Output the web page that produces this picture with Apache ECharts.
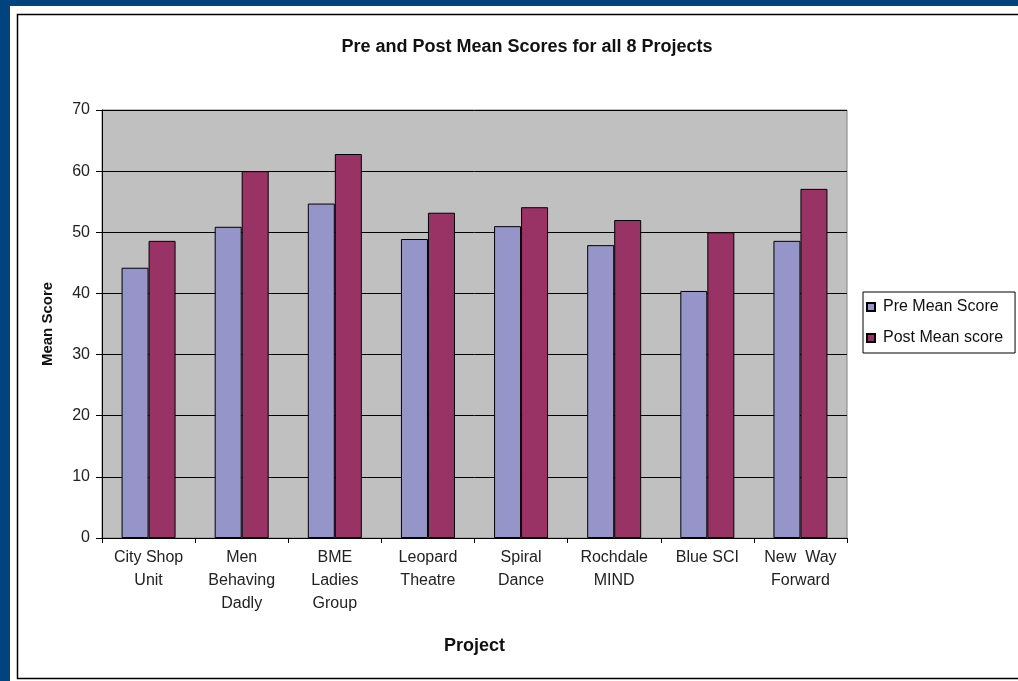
<!DOCTYPE html>
<html>
<head>
<meta charset="utf-8">
<script src="https://cdn.jsdelivr.net/npm/echarts@6/dist/echarts.min.js"></script>
<style>
html,body{margin:0;padding:0;background:#01437f;}
#c{width:1018px;height:681px;}
</style>
</head>
<body>
<div id="c"></div>
<script>
const categories = ["City Shop\nUnit", "Men\nBehaving\nDadly", "BME\nLadies\nGroup", "Leopard\nTheatre", "Spiral\nDance", "Rochdale\nMIND", "Blue SCI", "New  Way\nForward"];
const preMeanScore = [44.2, 50.9, 54.7, 48.9, 51.0, 47.9, 40.4, 48.6];
const postMeanScore = [48.6, 60.0, 62.8, 53.2, 54.1, 52.0, 50.0, 57.1];
const yTicks = {min: 0, max: 70, interval: 10};

const chart = echarts.init(document.getElementById('c'), null, {renderer: 'canvas'});
const font = '"Liberation Sans", Arial, sans-serif';
chart.setOption({
  backgroundColor: '#01437f',
  animation: false,
  textStyle: {fontFamily: font},
  graphic: [
    {type: 'rect', z: -10, shape: {x: 10, y: 6, width: 1010, height: 677}, style: {fill: '#ffffff'}},
    {type: 'rect', z: -9, shape: {x: 17.5, y: 14.5, width: 1010, height: 664}, style: {fill: 'none', stroke: '#000', lineWidth: 1.5}}
  ],
  title: {
    text: 'Pre and Post Mean Scores for all 8 Projects',
    left: 522, top: 33, textAlign: 'center',
    textStyle: {fontSize: 18, fontWeight: 'bold', color: '#111', fontFamily: font}
  },
  legend: {
    orient: 'vertical',
    left: 863, top: 292,
    padding: [7, 12, 7, 3],
    borderColor: '#000', borderWidth: 1,
    backgroundColor: '#fff',
    itemWidth: 8, itemHeight: 8, itemGap: 15,
    icon: 'rect',
    textStyle: {fontSize: 16, color: '#111', fontFamily: font, padding: [0, 0, 0, 3]},
    data: ['Pre Mean Score', 'Post Mean score']
  },
  grid: {
    left: 102, top: 110, width: 745, height: 428,
    show: true, backgroundColor: '#c0c0c0', borderColor: '#808080', borderWidth: 1
  },
  xAxis: {
    type: 'category',
    data: categories,
    name: 'Project', nameLocation: 'middle', nameGap: 99,
    nameTextStyle: {fontSize: 18, fontWeight: 'bold', color: '#111', verticalAlign: 'top'},
    axisLine: {lineStyle: {color: '#000', width: 1}},
    axisTick: {show: true, length: 5, lineStyle: {color: '#000'}},
    axisLabel: {fontSize: 16, color: '#222', lineHeight: 23, margin: 8, interval: 0}
  },
  yAxis: {
    type: 'value',
    min: yTicks.min, max: yTicks.max, interval: yTicks.interval,
    name: 'Mean Score', nameLocation: 'middle', nameGap: 47,
    nameTextStyle: {fontSize: 15, fontWeight: 'bold', color: '#111'},
    axisLine: {show: true, lineStyle: {color: '#000', width: 1}},
    axisTick: {show: true, length: 6, lineStyle: {color: '#000'}},
    axisLabel: {fontSize: 16, color: '#222', margin: 12},
    splitLine: {show: true, lineStyle: {color: '#000', width: 1}}
  },
  series: [
    {name: 'Pre Mean Score', type: 'bar', data: preMeanScore, barWidth: 27, barGap: '0%',
     itemStyle: {color: '#9595c9', borderColor: '#000', borderWidth: 1}},
    {name: 'Post Mean score', type: 'bar', data: postMeanScore, barWidth: 27, barGap: '0%',
     itemStyle: {color: '#993366', borderColor: '#000', borderWidth: 1}}
  ]
});
</script>
</body>
</html>
